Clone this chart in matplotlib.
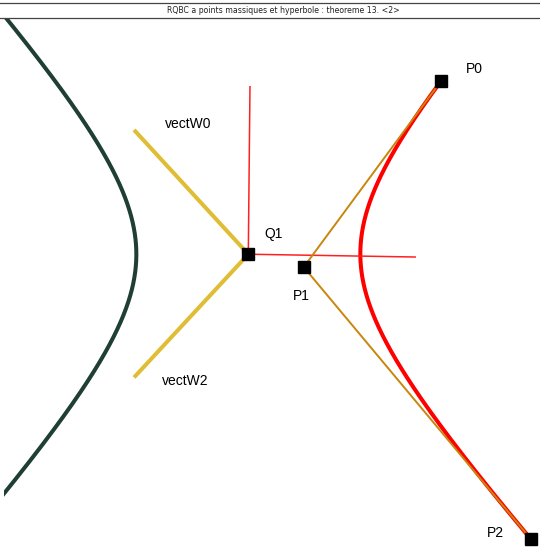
import numpy as np
import matplotlib
matplotlib.use("Agg")
import matplotlib.pyplot as plt
from matplotlib.lines import Line2D

# ---- data (math frame centred on Q1) ----
title = "RQBC a points massiques et hyperbole : theoreme 13. <2>"
P0 = np.array([3.44, 3.09])
P1 = np.array([0.99, -0.23])
P2 = np.array([5.04, -5.08])
Q1 = np.array([0.0, 0.0])
weight = 2.07
vectW0 = np.array([-2.04, 2.22])
vectW2 = np.array([-2.04, -2.20])
axis_u = np.array([2.98, -0.05])
axis_v = np.array([0.03, 2.99])

point_names = ["P0", "P1", "P2", "Q1"]
label_pos = {"P0": (3.89, 3.31), "P1": (0.80, -0.75), "P2": (4.26, -4.98),
             "Q1": (0.28, 0.36), "vectW0": (-1.49, 2.32), "vectW2": (-1.54, -2.26)}


def rqbc(p0, p1, p2, w, t):
    b0 = (1 - t) ** 2
    b1 = 2 * w * t * (1 - t)
    b2 = t ** 2
    den = b0 + b1 + b2
    x = (b0 * p0[0] + b1 * p1[0] + b2 * p2[0]) / den
    y = (b0 * p0[1] + b1 * p1[1] + b2 * p2[1]) / den
    return x, y


fig = plt.figure(figsize=(5.4, 5.48), dpi=100)
W, H = 540.0, 548.0
ax = fig.add_axes([4 / W, 0, 536 / W, 530 / H])
ax.set_xlim(-4.3625, 5.209)
ax.set_ylim(-5.246, 4.218)
ax.axis("off")

# right branch (weight w)
t = np.linspace(0, 1, 800)
xr, yr = rqbc(P0, P1, P2, weight, t)
ax.plot(xr, yr, color="#ff0000", lw=2.9, solid_capstyle="butt", zorder=2)

# left branch (weight -w), between the roots of the denominator
k = 1 + weight
disc = np.sqrt(k * k - 2 * k) / (2 * k)
t2 = np.linspace(0.5 - disc + 1e-5, 0.5 + disc - 1e-5, 6000)
xl, yl = rqbc(P0, P1, P2, -weight, t2)
ax.plot(xl, yl, color="#1f3f35", lw=2.9, zorder=2)

# control polygon
ctrl = np.array([P0, P1, P2])
ax.plot(ctrl[:, 0], ctrl[:, 1], color="#c8860c", lw=1.4, zorder=3)

# mass vectors
for v in (vectW0, vectW2):
    ax.plot([Q1[0], Q1[0] + v[0]], [Q1[1], Q1[1] + v[1]], color="#dfbd35",
            lw=2.9, solid_capstyle="butt", zorder=2)

# red frame at Q1
for v in (axis_u, axis_v):
    ax.plot([Q1[0], Q1[0] + v[0]], [Q1[1], Q1[1] + v[1]], color="#ff2020",
            lw=1.1, zorder=2)

# points
pts = np.array([P0, P1, P2, Q1])
ax.plot(pts[:, 0], pts[:, 1], ls="none", marker="s", ms=8, color="black",
        zorder=5, clip_on=False)

for name, (lx, ly) in label_pos.items():
    ax.text(lx, ly, name, ha="left", va="center", fontsize=10,
            family="Liberation Sans", color="black")

# title bar
fig.add_artist(Line2D([0, 1], [1 - 3 / H, 1 - 3 / H], color="#444444", lw=0.9))
fig.add_artist(Line2D([0, 1], [1 - 17.5 / H, 1 - 17.5 / H], color="#444444", lw=0.9))
fig.text(283 / W, 1 - 10.5 / H, title, ha="center", va="center", fontsize=5.6,
         family="DejaVu Sans", color="#222222")

fig.savefig("out.png", dpi=100)
